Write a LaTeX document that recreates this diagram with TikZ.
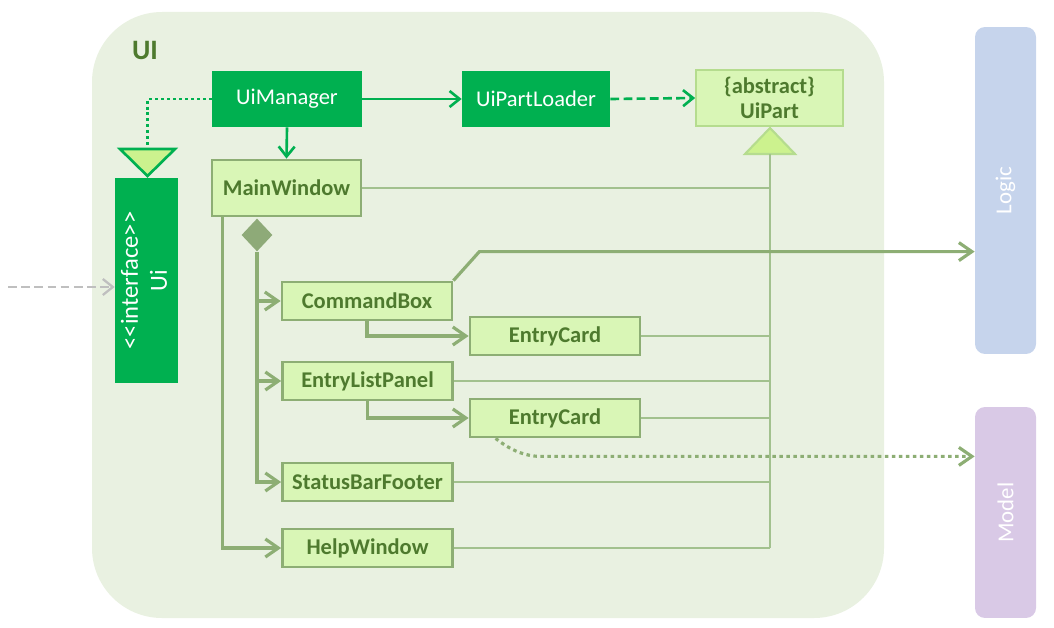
\documentclass[tikz,border=0pt]{standalone}
\usepackage{fontspec}
\setmainfont{Carlito}
\usepackage{xcolor}
\usepackage{tikz}
\usetikzlibrary{arrows.meta,shapes.geometric}
\definecolor{uibg}{HTML}{E9F1E1}
\definecolor{uigreen}{HTML}{00B050}
\definecolor{partfill}{HTML}{D9F6B6}
\definecolor{partedge}{HTML}{8DAE74}
\definecolor{parttext}{HTML}{4E7A2E}
\definecolor{linkgreen}{HTML}{A2C18E}
\definecolor{trifill}{HTML}{CCF28E}
\definecolor{triedge}{HTML}{B5DC8E}
\definecolor{diagreen}{HTML}{8EAA78}
\definecolor{logicbg}{HTML}{C6D4EC}
\definecolor{modelbg}{HTML}{D9C9E6}

\begin{document}
\begin{tikzpicture}[x=0.02cm,y=-0.02cm,
		boxfont/.style={font=\fontsize{12.8}{15}\selectfont},
		mainbox/.style={boxfont,fill=uigreen,text=white,minimum height=1.12cm,inner sep=0pt},
		partbox/.style={font=\fontsize{12.8}{15}\selectfont\bfseries,fill=partfill,draw=partedge,line width=1.6pt,text=parttext,minimum width=3.4cm,minimum height=0.76cm,inner sep=0pt},
		layerbox/.style={rounded corners=0.2cm,minimum width=1.22cm,inner sep=0pt,text=white,font=\fontsize{13}{15}\selectfont},
		greenarrow/.style={draw=uigreen,line width=1.5pt,-{Straight Barb[length=2mm,width=3.2mm]}},
		olivearrow/.style={draw=partedge,line width=1.8pt,-{Straight Barb[length=2.6mm,width=3.6mm]}},
		partlink/.style={draw=linkgreen,line width=1.1pt}]
			\useasboundingbox (0,0) rectangle (1054,628);
			\fill[uibg,rounded corners=1.4cm] (92,12) rectangle (884,618);
			\node[font=\fontsize{16}{18}\selectfont\bfseries,text=parttext] (uilabel) at (145,50) {UI};
			\node[mainbox,minimum width=3cm] (mgr) at (287,99) {UiManager};
			\node[mainbox,minimum width=2.96cm] (loader) at (536,99) {UiPartLoader};
			\node[font=\fontsize{12.8}{14.5}\selectfont\bfseries,fill=partfill,draw=triedge,line width=1pt,text=parttext,minimum width=2.94cm,minimum height=1.12cm,inner sep=0pt,align=center] (uipart) at (769.5,98) {\{abstract\}\\UiPart};
			\node[partbox,minimum width=2.98cm,minimum height=1.12cm] (mw) at (286.5,188) {MainWindow};
			\node[mainbox,minimum width=1.26cm,minimum height=4.1cm,font=\fontsize{14}{16.5}\selectfont] (ui) at (146.5,280.5) {\rotatebox{90}{\begin{tabular}{@{}c@{}}<{}<interface>{}>\\Ui\end{tabular}}};
			\node[partbox] (cmd) at (367,301) {CommandBox};
			\node[partbox] (ec1) at (555,336) {EntryCard};
			\node[partbox] (elp) at (367.5,381) {EntryListPanel};
			\node[partbox] (ec2) at (555,418) {EntryCard};
			\node[partbox] (sbf) at (367.5,482) {StatusBarFooter};
			\node[partbox] (help) at (367.5,548) {HelpWindow};
			\node[diamond,fill=diagreen,minimum width=0.62cm,minimum height=0.66cm,inner sep=0pt] (dia) at (257,235) {};
			\node[layerbox,fill=logicbg,minimum height=6.54cm] (logic) at (1005.5,190.5) {\rotatebox{90}{Logic}};
			\node[layerbox,fill=modelbg,minimum height=4.22cm] (model) at (1005.5,512.5) {\rotatebox{90}{Model}};
			\filldraw[fill=trifill,draw=uigreen,line width=1.5pt] (120,149) -- (175,149) -- (147.5,176) -- cycle;
			\coordinate (uitri) at (147.5,149);
			\filldraw[fill=trifill,draw=triedge,line width=1.2pt] (745,154) -- (795,154) -- (770,128) -- cycle;
			\coordinate (parttri) at (770,154);
			\coordinate (ext) at (8,287);
			\draw[greenarrow] (mgr.east) -- (loader.west);
			\draw[greenarrow] (mgr.south) -- (mw.north);
			\draw[greenarrow,dash pattern=on 5pt off 2.5pt] (loader.east) -- (uipart.west);
			\draw[uigreen,line width=1.7pt,dash pattern=on 1.7pt off 1.7pt] (mgr.west) -| (uitri);
			\draw[partlink] (parttri) -- (parttri |- help.east);
			\foreach \n in {mw,ec1,elp,ec2,sbf}
				\draw[partlink] (\n.east) -- (\n.east -| parttri);
			\draw[partlink,line width=1.6pt] (help.east) -- (help.east -| parttri);
			\draw[olivearrow] (dia.south) |- (sbf.west);
			\draw[olivearrow] (dia.south |- cmd.west) -- (cmd.west);
			\draw[olivearrow] (dia.south |- elp.west) -- (elp.west);
			\draw[olivearrow] ([xshift=0.24cm]mw.south west) |- (help.west);
			\draw[olivearrow] (cmd.south) |- (ec1.west);
			\draw[olivearrow] (elp.south) |- (ec2.west);
			\draw[olivearrow] (cmd.north east) -- ++(26,-29) coordinate (cbend) -- (cbend -| logic.west);
			\draw[olivearrow,dash pattern=on 2pt off 2pt] ([xshift=0.54cm]ec2.south west) .. controls +(15,12) and +(-15,0) .. ++(45,18) coordinate (mbend) -- (mbend -| model.west);
			\draw[gray!50,line width=1.3pt,dash pattern=on 5pt off 2.5pt,-{Straight Barb[length=2mm,width=3.2mm]}] (ext) -- (ext -| ui.west);
		\end{tikzpicture}
\end{document}
